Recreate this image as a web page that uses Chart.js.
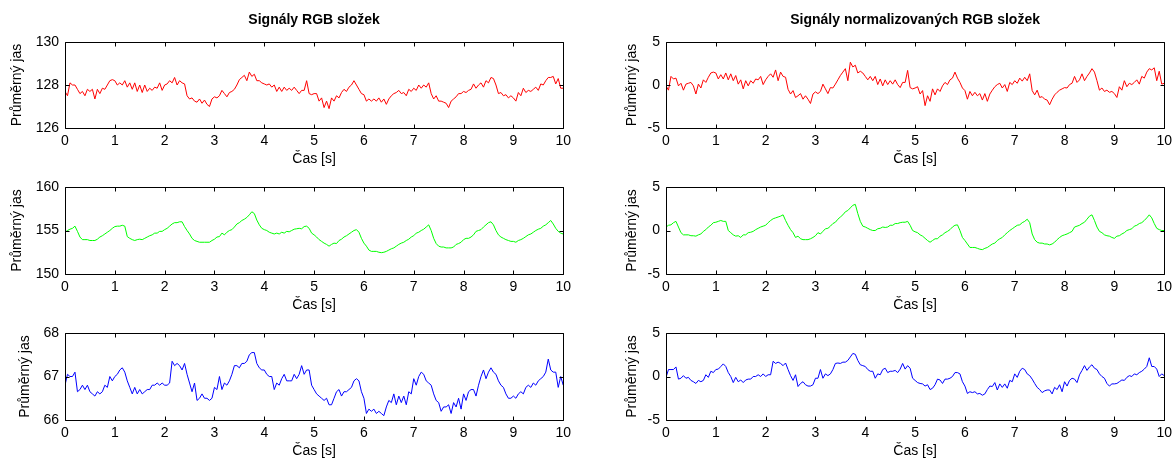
<!DOCTYPE html>
<html>
<head>
<meta charset="utf-8">
<script src="https://cdn.jsdelivr.net/npm/chart.js@4.4.0/dist/chart.umd.min.js"></script>
<style>
  html, body { margin: 0; padding: 0; background: #fff; overflow: hidden; }
  body { width: 1176px; height: 462px; position: relative; }
  canvas { position: absolute; }
</style>
</head>
<body>
<canvas id="rRaw"></canvas>
<canvas id="rNorm"></canvas>
<canvas id="gRaw"></canvas>
<canvas id="gNorm"></canvas>
<canvas id="bRaw"></canvas>
<canvas id="bNorm"></canvas>
<script>
// samples every 0.05 s, 0..10 s
const time = Array.from({ length: 201 }, (_, i) => +(i * 0.05).toFixed(2));

// mean brightness, raw components (one line per second)
const redRaw = [
  127.7,127.5,128.1,128.0,128.0,127.8,127.6,127.7,127.5,127.8,127.7,127.8,127.35,127.8,127.6,127.85,127.8,128.0,128.2,128.25,
  128.2,128.0,128.1,128.0,128.2,127.9,128.1,127.8,128.1,127.7,128.0,127.65,128.0,127.7,127.85,127.75,127.9,127.85,128.1,127.75,
  128.0,128.05,128.2,128.1,128.35,128.0,128.2,128.1,128.05,127.5,127.35,127.4,127.25,127.2,127.35,127.15,127.3,127.1,127.0,127.35,
  127.45,127.4,127.5,127.75,127.6,127.45,127.65,127.7,127.8,128.0,128.25,128.35,128.45,128.2,128.6,128.4,128.5,128.2,128.2,128.1,
  128.05,128.0,128.05,127.9,128.0,127.7,127.9,127.7,127.9,127.75,127.85,127.75,127.9,127.75,127.6,127.75,127.75,128.2,127.6,127.55,
  127.6,127.6,127.25,127.4,126.95,127.25,126.9,127.4,127.25,127.5,127.4,127.65,127.8,127.7,127.9,128.0,128.2,128.0,127.8,127.6,
  127.55,127.25,127.35,127.25,127.35,127.25,127.4,127.2,127.35,127.1,127.35,127.5,127.6,127.65,127.75,127.6,127.65,127.5,127.8,127.7,
  127.85,127.75,128.0,127.85,128.0,127.9,128.1,127.6,127.35,127.5,127.25,127.25,127.2,127.15,126.95,127.25,127.35,127.45,127.6,127.6,
  127.7,127.65,127.75,127.8,128.05,127.85,128.0,128.1,127.9,128.2,128.1,128.35,128.3,128.0,127.6,127.65,127.5,127.55,127.4,127.5,
  127.4,127.25,127.65,127.5,127.85,127.65,127.75,127.7,127.8,127.9,127.75,128.05,128.0,128.2,128.35,128.35,128.4,128.05,128.3,127.85,
  127.85
];
const greenRaw = [
  154.8,155.0,155.15,155.25,155.5,154.9,154.25,153.95,153.95,153.95,153.85,153.85,153.85,154.0,154.25,154.4,154.6,154.8,155.0,155.25,
  155.45,155.5,155.5,155.6,155.5,154.3,154.1,153.95,153.85,153.95,154.0,153.95,154.1,154.25,154.4,154.5,154.7,154.7,154.9,154.9,
  155.1,155.25,155.5,155.75,155.9,155.9,156.0,156.0,155.45,155.0,154.6,154.1,153.85,153.75,153.65,153.65,153.65,153.65,153.65,153.85,
  154.0,154.25,154.3,154.7,154.5,154.8,155.0,155.1,155.4,155.75,155.9,156.15,156.3,156.5,156.8,157.15,156.95,156.2,155.65,155.25,
  155.1,155.0,154.8,154.7,154.6,154.7,154.6,154.8,154.7,154.9,154.85,155.0,155.15,155.2,155.25,155.2,155.45,155.5,155.25,154.7,
  154.5,154.25,153.95,153.75,153.55,153.4,153.2,153.4,153.55,153.5,153.85,154.0,154.25,154.4,154.6,154.8,155.0,155.1,154.8,154.1,
  153.55,153.2,152.75,152.6,152.6,152.6,152.5,152.45,152.5,152.6,152.75,152.9,153.0,153.2,153.4,153.55,153.65,153.85,154.0,154.25,
  154.4,154.7,154.8,155.0,155.15,155.4,155.65,155.0,154.1,153.5,153.2,153.1,153.1,153.0,153.0,153.0,153.1,153.4,153.5,153.65,
  153.95,154.1,154.1,154.25,154.5,154.9,155.0,155.1,155.4,155.65,155.9,156.0,155.65,155.0,154.5,154.25,154.1,153.95,153.85,153.75,
  153.75,153.65,153.85,153.95,154.1,154.3,154.5,154.6,154.8,155.0,155.15,155.25,155.5,155.65,155.9,156.15,155.75,155.25,154.9,154.7,
  154.6
];
const blueRaw = [
  66.8,67.05,67.0,67.0,67.1,66.65,66.7,66.8,66.7,66.8,66.65,66.6,66.55,66.65,66.6,66.65,66.8,66.75,67.0,66.9,
  67.0,67.05,67.15,67.2,67.1,66.9,66.75,66.6,66.75,66.6,66.7,66.6,66.65,66.7,66.7,66.8,66.8,66.85,66.8,66.85,
  66.8,66.8,66.85,67.35,67.25,67.3,67.25,67.15,67.3,67.05,66.85,66.65,66.85,66.45,66.5,66.6,66.5,66.5,66.45,66.5,
  66.75,66.7,67.0,66.7,66.85,66.8,66.9,67.05,67.25,67.25,67.2,67.3,67.3,67.35,67.5,67.55,67.55,67.3,67.2,67.15,
  67.15,67.05,67.0,67.0,66.7,66.85,66.8,66.95,67.05,66.9,66.9,66.9,67.05,66.95,67.05,67.25,67.05,67.15,67.15,66.8,
  66.7,66.6,66.55,66.5,66.45,66.5,66.35,66.35,66.5,66.65,66.7,66.55,66.65,66.65,66.7,66.75,66.9,66.95,66.9,66.65,
  66.5,66.15,66.25,66.2,66.25,66.15,66.2,66.15,66.1,66.3,66.45,66.4,66.6,66.35,66.55,66.4,66.55,66.35,66.65,66.6,
  66.95,66.8,67.0,67.1,67.05,66.9,66.85,66.8,66.6,66.45,66.4,66.2,66.3,66.3,66.35,66.15,66.4,66.3,66.5,66.25,
  66.6,66.45,66.65,66.7,66.7,66.55,66.8,67.0,67.15,66.95,67.1,67.2,67.1,67.05,66.9,66.8,66.75,66.6,66.5,66.5,
  66.55,66.5,66.6,66.65,66.6,66.75,66.8,66.75,66.85,66.8,66.9,66.95,67.0,67.1,67.4,67.15,67.1,67.1,66.75,67.0,
  66.8
];

// normalized components
const redNorm = [
  -0.1,-0.6,1.0,0.7,0.8,-0.1,0.2,-0.6,0.1,0.2,0.3,-0.1,-1.05,0.1,-0.35,0.6,0.3,0.9,1.4,1.5,
  1.4,0.7,1.2,0.7,1.4,0.6,1.3,0.5,1.1,0.1,0.6,-0.45,0.5,-0.1,0.5,0.2,0.7,0.6,1.0,0.05,
  0.6,1.0,1.3,0.9,1.75,0.5,1.5,1.0,0.9,-0.5,-1.05,-0.65,-1.45,-1.25,-1.0,-1.65,-1.25,-1.65,-2.15,-1.05,
  -0.8,-1.0,-0.75,0.1,-0.45,-1.0,-0.3,-0.35,0.1,0.6,1.1,1.5,1.9,0.5,2.65,2.1,2.3,1.4,1.6,1.4,
  1.0,0.6,1.0,0.5,1.0,0.05,0.7,-0.1,0.6,0.05,0.5,0.1,0.6,0.05,-0.3,0.3,0.3,1.7,-0.3,-0.45,
  -0.35,-0.2,-1.05,-0.65,-2.4,-1.25,-1.9,-0.45,-1.15,-0.45,-0.75,-0.1,0.3,0.05,0.6,0.8,1.5,0.8,0.3,-0.35,
  -0.65,-1.65,-0.75,-1.25,-0.85,-1.25,-1.0,-1.75,-1.0,-1.9,-1.05,-0.6,-0.2,0.05,0.2,-0.35,0.05,-0.75,0.3,0.05,
  0.5,0.2,0.8,0.45,0.9,0.5,1.3,-0.65,-1.15,-0.6,-1.45,-1.35,-1.65,-1.75,-2.3,-1.65,-1.15,-0.85,-0.6,-0.45,
  -0.3,-0.35,0.05,0.2,1.0,0.3,0.6,1.3,0.5,1.0,1.4,1.9,1.5,0.5,-0.6,-0.35,-0.75,-0.6,-0.85,-0.75,
  -1.0,-1.45,-0.2,-0.6,0.5,-0.2,0.2,0.05,0.3,0.6,0.1,1.0,0.8,1.5,1.9,1.75,2.0,0.5,1.6,0.1,
  0.2
];
const greenNorm = [
  0.4,0.6,0.65,0.9,1.05,0.4,-0.25,-0.5,-0.5,-0.5,-0.6,-0.6,-0.65,-0.5,-0.4,-0.1,0.1,0.4,0.6,0.9,
  0.95,1.05,1.15,1.05,1.05,0.0,-0.25,-0.5,-0.65,-0.6,-0.8,-0.5,-0.5,-0.25,-0.2,-0.1,0.1,0.25,0.4,0.5,
  0.6,0.9,1.15,1.35,1.45,1.55,1.65,1.8,1.15,0.6,0.1,-0.25,-0.8,-0.65,-0.95,-1.05,-1.05,-1.05,-0.95,-0.8,
  -0.6,-0.25,-0.4,-0.1,0.2,0.25,0.5,0.8,0.95,1.3,1.55,1.8,2.15,2.3,2.6,2.9,3.0,1.95,1.05,0.5,
  0.4,0.25,0.1,0.0,0.0,0.2,0.25,0.4,0.35,0.4,0.6,0.6,0.8,0.8,0.9,0.95,0.95,1.05,0.6,0.0,
  -0.15,-0.25,-0.5,-0.65,-0.9,-1.15,-1.35,-1.15,-0.95,-0.95,-0.65,-0.5,-0.25,-0.1,0.1,0.4,0.6,0.65,0.0,-0.8,
  -1.15,-1.55,-1.95,-1.95,-1.95,-2.05,-2.15,-2.2,-2.05,-1.95,-1.75,-1.55,-1.45,-1.15,-0.95,-0.8,-0.5,-0.25,0.0,0.2,
  0.4,0.6,0.65,0.9,1.05,1.3,0.9,-0.4,-1.05,-1.35,-1.45,-1.45,-1.55,-1.55,-1.65,-1.55,-1.35,-1.05,-0.8,-0.6,
  -0.5,-0.4,-0.25,-0.1,0.4,0.5,0.6,0.8,0.95,1.3,1.65,1.8,1.15,0.4,-0.1,-0.25,-0.5,-0.6,-0.65,-0.8,
  -0.9,-0.65,-0.6,-0.4,-0.25,0.0,0.1,0.2,0.5,0.6,0.8,0.9,1.15,1.45,1.8,1.45,0.8,0.25,0.1,0.0,
  0.0
];
const blueNorm = [
  -0.1,0.8,0.8,0.8,1.1,-0.3,-0.2,0.1,-0.2,-0.1,-0.45,-0.6,-0.8,-0.45,-0.6,-0.45,0.2,-0.1,0.6,0.45,
  0.8,0.85,1.15,1.45,1.15,0.45,0.0,-0.7,-0.1,-0.6,-0.4,-0.7,-0.4,-0.3,-0.3,0.0,0.0,0.2,0.0,0.3,
  0.0,0.2,0.2,1.75,1.5,1.65,1.5,1.25,1.55,0.8,0.1,-0.45,0.2,-1.15,-0.8,-0.6,-0.95,-1.1,-1.1,-0.95,
  -0.2,-0.2,0.8,-0.2,0.3,0.1,0.3,0.8,1.5,1.55,1.5,1.65,1.65,1.85,2.25,2.65,2.55,1.85,1.35,1.25,
  1.15,0.8,0.6,0.6,-0.2,0.3,0.2,0.8,0.95,0.45,0.6,0.6,0.7,0.45,0.85,1.5,0.85,1.25,0.95,-0.2,
  -0.45,-0.7,-0.8,-0.85,-1.1,-0.95,-1.5,-1.35,-0.95,-0.3,-0.4,-0.8,-0.3,-0.3,-0.2,0.0,0.45,0.45,0.3,-0.6,
  -1.1,-1.95,-1.75,-1.85,-1.75,-2.0,-1.95,-2.15,-2.0,-1.5,-1.1,-1.15,-0.7,-1.55,-0.85,-1.25,-0.85,-1.35,-0.45,-0.6,
  0.3,-0.1,0.6,0.95,0.8,0.3,0.1,-0.3,-0.8,-1.25,-1.5,-1.85,-1.65,-1.55,-1.55,-2.0,-1.25,-1.5,-0.95,-1.75,
  -0.6,-1.1,-0.45,-0.2,-0.3,-0.7,0.2,0.7,1.25,0.7,1.1,1.35,0.95,0.8,0.3,0.0,-0.2,-0.8,-1.1,-0.85,
  -0.85,-0.8,-0.6,-0.4,-0.45,-0.1,0.1,0.0,0.3,0.2,0.45,0.6,0.85,1.15,2.15,1.15,1.15,0.85,0.0,0.3,
  0.1
];

// subplot grid (pixels)
const rowBoxes = [{ top: 42, height: 86 }, { top: 187, height: 87 }, { top: 333, height: 87 }];
const colBoxes = [{ left: 0, plotLeft: 65, plotRight: 566 }, { left: 600, plotLeft: 666, plotRight: 1167 }];
const TOP_PAD = 20, X_AXIS_H = 45, FONT = 'Liberation Sans';

const panels = [
  { id: 'rRaw',  values: redRaw,    color: '#ff0000', min: 126, max: 130, step: 2, row: 0, col: 0, yTitleX: 17, title: 'Signály RGB složek' },
  { id: 'rNorm', values: redNorm,   color: '#ff0000', min: -5,  max: 5,   step: 5, row: 0, col: 1, yTitleX: 32, title: 'Signály normalizovaných RGB složek' },
  { id: 'gRaw',  values: greenRaw,  color: '#00ff00', min: 150, max: 160, step: 5, row: 1, col: 0, yTitleX: 17 },
  { id: 'gNorm', values: greenNorm, color: '#00ff00', min: -5,  max: 5,   step: 5, row: 1, col: 1, yTitleX: 32 },
  { id: 'bRaw',  values: blueRaw,   color: '#0000ff', min: 66,  max: 68,  step: 1, row: 2, col: 0, yTitleX: 25 },
  { id: 'bNorm', values: blueNorm,  color: '#0000ff', min: -5,  max: 5,   step: 5, row: 2, col: 1, yTitleX: 32 }
];

// matlab-like box with inward ticks on all four sides
const axesBox = {
  id: 'axesBox',
  afterDraw(chart) {
    const { ctx, chartArea: a, scales: { x, y } } = chart;
    const L = Math.round(a.left) + 0.5, R = Math.round(a.right) + 0.5;
    const T = Math.round(a.top) + 0.5, B = Math.round(a.bottom) + 0.5;
    const len = 4;
    ctx.save();
    ctx.strokeStyle = '#000';
    ctx.lineWidth = 1;
    ctx.beginPath();
    ctx.rect(L, T, R - L, B - T);
    x.ticks.forEach(t => {
      const px = Math.round(x.getPixelForValue(t.value)) + 0.5;
      ctx.moveTo(px, B); ctx.lineTo(px, B - len);
      ctx.moveTo(px, T); ctx.lineTo(px, T + len);
    });
    y.ticks.forEach(t => {
      const py = Math.round(y.getPixelForValue(t.value)) + 0.5;
      ctx.moveTo(L, py); ctx.lineTo(L + len, py);
      ctx.moveTo(R, py); ctx.lineTo(R - len, py);
    });
    ctx.stroke();
    ctx.restore();
  }
};

function build(p) {
  const r = rowBoxes[p.row], c = colBoxes[p.col];
  const yAxisW = c.plotLeft - c.left;
  const padTop = p.title ? r.top : TOP_PAD;
  const canvas = document.getElementById(p.id);
  canvas.width = c.plotRight - c.left + 10;
  canvas.height = padTop + r.height + X_AXIS_H;
  canvas.style.left = c.left + 'px';
  canvas.style.top = (r.top - padTop) + 'px';

  const titleTop = 20 - 8.4;
  new Chart(canvas, {
    type: 'line',
    data: {
      datasets: [{
        data: time.map((t, i) => ({ x: t, y: p.values[i] })),
        borderColor: p.color,
        borderWidth: 1,
        pointRadius: 0,
        tension: 0,
        fill: false
      }]
    },
    options: {
      responsive: false,
      animation: false,
      events: [],
      layout: { padding: { top: p.title ? 0 : TOP_PAD, right: 10, bottom: 0, left: 0 } },
      plugins: {
        legend: { display: false },
        tooltip: { enabled: false },
        title: {
          display: !!p.title,
          fullSize: false,
          text: p.title || '',
          color: '#000',
          font: { family: FONT, size: 14, weight: 'bold' },
          padding: { top: titleTop, bottom: r.top - titleTop - 16.8 }
        }
      },
      scales: {
        x: {
          type: 'linear', min: 0, max: 10,
          grid: { display: false, drawTicks: false },
          border: { display: false },
          ticks: { stepSize: 1, color: '#000', font: { family: FONT, size: 14 }, padding: 5, maxRotation: 0 },
          title: { display: true, text: 'Čas [s]', color: '#000', font: { family: FONT, size: 14 }, padding: { top: 0, bottom: 5 } },
          afterFit: s => { s.height = X_AXIS_H; }
        },
        y: {
          min: p.min, max: p.max,
          grid: { display: false, drawTicks: false },
          border: { display: false },
          ticks: { stepSize: p.step, color: '#000', font: { family: FONT, size: 14 }, padding: 6 },
          title: { display: true, text: 'Průměrný jas', color: '#000', font: { family: FONT, size: 14 }, padding: { top: p.yTitleX - 8.4, bottom: 0 } },
          afterFit: s => { s.width = yAxisW; }
        }
      }
    },
    plugins: [axesBox]
  });
}

panels.forEach(build);
</script>
</body>
</html>
